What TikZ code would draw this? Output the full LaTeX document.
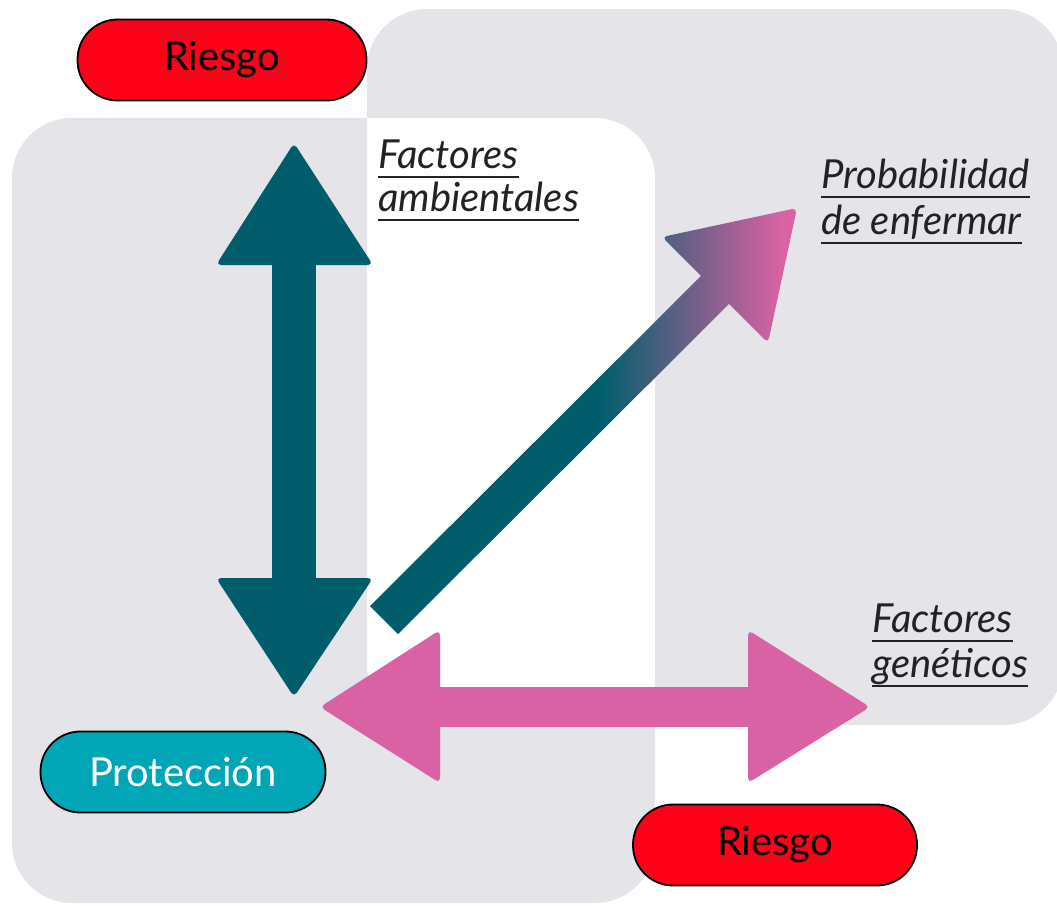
\documentclass[tikz,border=0pt]{standalone}
\usepackage{fontspec}
\setmainfont{Lato}
\usetikzlibrary{calc}
\definecolor{graybg}{HTML}{E4E4E9}
\definecolor{dteal}{HTML}{005E6C}
\definecolor{pinkc}{HTML}{D862A3}
\definecolor{redc}{HTML}{FF0019}
\definecolor{protc}{HTML}{00A6B6}
\definecolor{labc}{HTML}{222222}
\tikzset{
  pill/.style={draw=black, line width=1.8pt, rounded corners=40pt, minimum height=81pt, inner sep=0pt, font=\fontsize{40}{48}\selectfont},
  lbl/.style={anchor=base west, inner sep=0pt, text=labc, font=\fontsize{40}{46}\selectfont\itshape},
  ulline/.style={draw=labc, line width=2.6pt},
  headtri/.style={rounded corners=5pt}
}
\begin{document}
\begin{tikzpicture}[x=1pt,y=-1pt]
\useasboundingbox (0,0) rectangle (1057,905);
% background panels (overlap left white)
\fill[graybg, even odd rule, rounded corners=60pt]
  (12,118) rectangle (655,903)
  (367,9) rectangle (1063,725);
% pills
\node[pill, fill=redc, minimum width=289pt] (r1) at (222,60) {Riesgo};
\node[pill, fill=protc, text=white, minimum width=285pt] (prot) at (183,772) {Protección};
\node[pill, fill=redc, minimum width=284pt] (r2) at (775,845) {Riesgo};
% vertical teal double arrow
\coordinate (vtop) at (294,143);
\coordinate (vbot) at (294,697);
\fill[dteal] ($(vtop)+(-22,110)$) rectangle ($(vbot)+(22,-110)$);
\fill[dteal, headtri] ($(vtop)+(-78,122)$) -- (vtop) -- ($(vtop)+(79,122)$) -- cycle;
\fill[dteal, headtri] ($(vbot)+(-78,-119)$) -- (vbot) -- ($(vbot)+(79,-119)$) -- cycle;
% pink horizontal double arrow
\coordinate (hl) at (320,707);
\coordinate (hr) at (870,707);
\fill[pinkc] ($(hl)+(110,-20)$) rectangle ($(hr)+(-112,20)$);
\fill[pinkc, headtri] ($(hl)+(120,-77)$) -- (hl) -- ($(hl)+(120,76)$) -- cycle;
\fill[pinkc, headtri] ($(hr)+(-122,-77)$) -- (hr) -- ($(hr)+(-122,76)$) -- cycle;
% diagonal gradient arrow
\coordinate (dtail) at (384,620);
\coordinate (dtip) at (797,208);
\begin{scope}
\clip (370,606) -- (708,269) -- (736,297) -- (398,634) -- cycle
  [rounded corners=5pt] (662,237) -- (dtip) -- (768,343) -- cycle;
\fill[dteal] (350,190) rectangle (600,660);
\shade[left color=dteal, right color=pinkc] (599.5,190) rectangle (780,660);
\fill[pinkc] (779.5,190) rectangle (820,660);
\end{scope}
% labels
\node[lbl] (fa1) at (378,168) {Factores};
\node[lbl] (fa2) at (378,211) {ambientales};
\node[lbl] (pe1) at (821,188) {Probabilidad};
\node[lbl] (pe2) at (821,234) {de enfermar};
\node[lbl] (fg1) at (872,632) {Factores};
\node[lbl] (fg2) at (872,677) {genéticos};
\foreach \n in {fa1,fa2,pe1,pe2,fg1,fg2}{
  \draw[ulline] ([yshift=-9pt]\n.base west) -- ([yshift=-9pt]\n.base east);
}
\end{tikzpicture}
\end{document}
